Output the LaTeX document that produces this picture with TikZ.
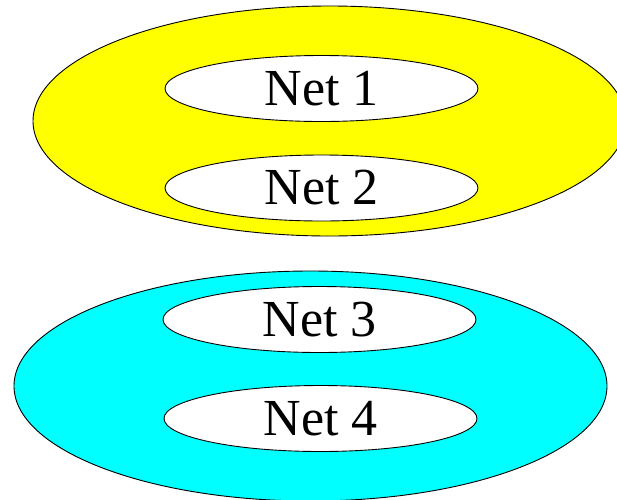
\documentclass[tikz,border=0pt]{standalone}
\usepackage{fontspec}
\setmainfont{Liberation Serif}
\usetikzlibrary{shapes.geometric}
\begin{document}
\begin{tikzpicture}[x=1pt,y=-1pt,
  outer/.style={ellipse,draw=black,line width=0.9pt,inner sep=0pt,minimum width=593pt,minimum height=230pt},
  net/.style={ellipse,draw=black,line width=0.9pt,fill=white,inner sep=0pt,minimum width=313pt,minimum height=66pt,font=\fontsize{52}{52}\selectfont}]
\useasboundingbox (0,0) rectangle (617,499);
\clip (0,0) rectangle (617,499);
\node[outer,fill={rgb,255:red,255;green,255;blue,0}] (g1) at (329.5,121) {};
\node[outer,fill={rgb,255:red,0;green,255;blue,255}] (g2) at (310.5,386) {};
\node[net] (n1) at (321.5,88.5) {Net 1};
\node[net] (n2) at (321.5,188) {Net 2};
\node[net] (n3) at (319.5,319.5) {Net 3};
\node[net] (n4) at (320.5,418.5) {Net 4};
\end{tikzpicture}
\end{document}
